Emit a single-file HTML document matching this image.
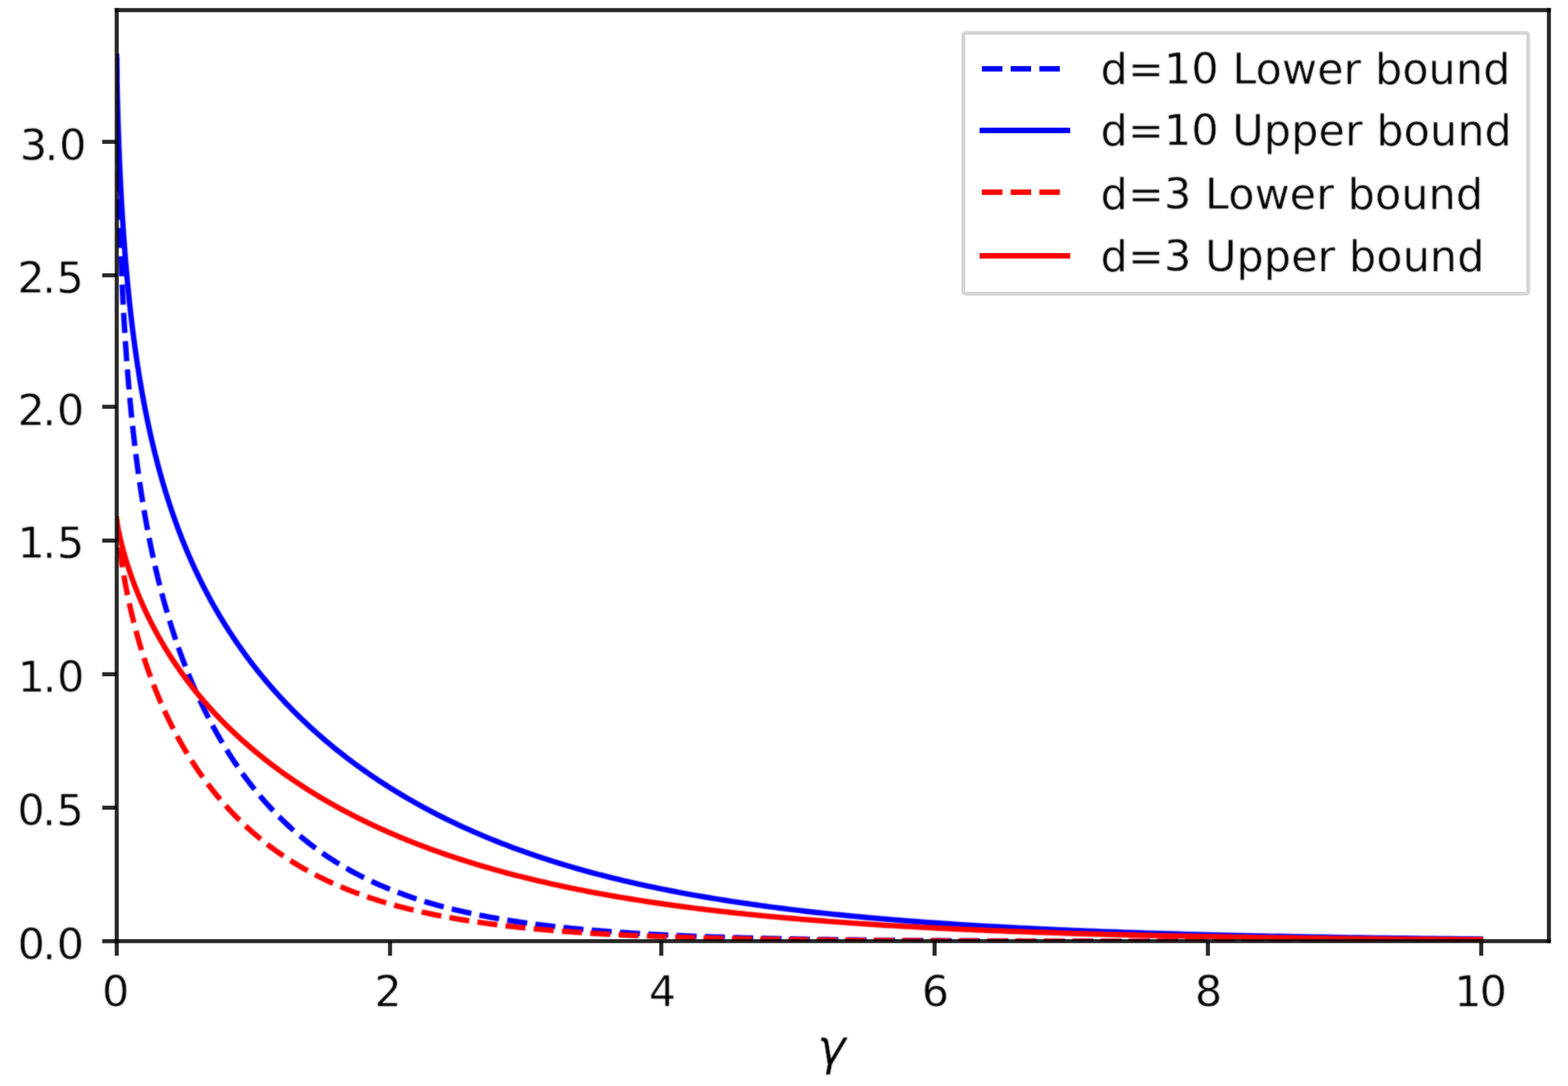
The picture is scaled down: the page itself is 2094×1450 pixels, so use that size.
<!DOCTYPE html>
<html lang="en"><head><meta charset="utf-8"><title>Lower and upper bounds versus γ</title>
<style>
html,body{margin:0;padding:0;background:#fff;}
body{width:2094px;height:1450px;overflow:hidden;}
svg{display:block;}
text{font-family:'DejaVu Sans','Liberation Sans',sans-serif;fill:#000;stroke:#fff;stroke-width:0.5px;stroke-linejoin:round;}
</style></head><body>
<svg width="2094" height="1450" viewBox="0 0 2094 1450">
<rect x="0" y="0" width="2094" height="1450" fill="#fff"/>
<defs><clipPath id="ax"><rect x="155.9" y="13.55" width="1912.6" height="1243.05"/></clipPath>
<filter id="soft" filterUnits="userSpaceOnUse" x="0" y="0" width="2094" height="1450" color-interpolation-filters="sRGB"><feGaussianBlur stdDeviation="1" result="g"/><feComposite in="SourceGraphic" in2="g" operator="arithmetic" k1="0" k2="0.4" k3="0.6" k4="0"/></filter></defs>
<g filter="url(#soft)"><g clip-path="url(#ax)" fill="none" stroke-width="7.2" stroke-linejoin="round">
<path d="M155.70,75.32 L155.74,81.57 L155.74,82.05 L155.74,82.52 L155.75,82.98 L155.75,83.47 L155.75,83.93 L155.76,84.42 L155.76,84.88 L155.76,85.36 L155.77,85.86 L155.77,86.32 L155.77,86.80 L155.78,87.30 L155.78,87.82 L155.79,88.28 L155.79,88.76 L155.79,89.26 L155.80,89.77 L155.80,90.30 L155.81,90.76 L155.81,91.23 L155.81,91.71 L155.82,92.21 L155.82,92.72 L155.83,93.25 L155.83,93.79 L155.84,94.35 L155.84,94.81 L155.84,95.27 L155.85,95.75 L155.85,96.24 L155.86,96.74 L155.86,97.25 L155.87,97.78 L155.87,98.31 L155.88,98.86 L155.88,99.42 L155.89,99.99 L155.89,100.57 L155.90,101.17 L155.90,101.62 L155.91,102.09 L155.91,102.56 L155.92,103.04 L155.92,103.52 L155.93,104.02 L155.93,104.52 L155.94,105.03 L155.94,105.55 L155.95,106.08 L155.95,106.62 L155.96,107.16 L155.96,107.72 L155.97,108.28 L155.97,108.85 L155.98,109.43 L155.99,110.02 L155.99,110.62 L156.00,111.23 L156.01,111.85 L156.01,112.48 L156.02,113.11 L156.03,113.76 L156.03,114.42 L156.04,115.09 L156.05,115.54 L156.05,116.00 L156.06,116.46 L156.06,116.92 L156.07,117.39 L156.07,117.87 L156.08,118.35 L156.08,118.83 L156.09,119.32 L156.09,119.82 L156.10,120.32 L156.11,120.82 L156.11,121.33 L156.12,121.85 L156.12,122.37 L156.13,122.90 L156.14,123.43 L156.14,123.96 L156.15,124.51 L156.16,125.05 L156.16,125.61 L156.17,126.16 L156.18,126.73 L156.18,127.30 L156.19,127.87 L156.20,128.45 L156.20,129.04 L156.21,129.63 L156.22,130.23 L156.23,130.83 L156.23,131.44 L156.24,132.06 L156.25,132.68 L156.26,133.30 L156.27,133.94 L156.27,134.58 L156.28,135.22 L156.29,135.88 L156.30,136.53 L156.31,137.20 L156.32,137.87 L156.33,138.55 L156.34,139.23 L156.34,139.92 L156.35,140.62 L156.36,141.32 L156.37,142.03 L156.38,142.74 L156.39,143.47 L156.40,144.20 L156.41,144.93 L156.42,145.68 L156.43,146.43 L156.44,147.18 L156.46,147.95 L156.47,148.72 L156.48,149.50 L156.49,150.28 L156.50,151.07 L156.51,151.87 L156.52,152.68 L156.54,153.49 L156.55,154.31 L156.56,155.14 L156.57,155.98 L156.59,156.82 L156.60,157.67 L156.61,158.53 L156.62,159.39 L156.64,160.27 L156.65,161.15 L156.67,162.04 L156.68,162.93 L156.69,163.38 L156.69,163.84 L156.70,164.29 L156.71,164.75 L156.72,165.21 L156.72,165.67 L156.73,166.13 L156.74,166.60 L156.75,167.06 L156.75,167.53 L156.76,168.00 L156.77,168.48 L156.78,168.95 L156.78,169.43 L156.79,169.91 L156.80,170.39 L156.81,170.87 L156.82,171.36 L156.82,171.84 L156.83,172.33 L156.84,172.82 L156.85,173.32 L156.86,173.81 L156.86,174.31 L156.87,174.81 L156.88,175.31 L156.89,175.81 L156.90,176.32 L156.91,176.82 L156.92,177.33 L156.92,177.85 L156.93,178.36 L156.94,178.88 L156.95,179.39 L156.96,179.91 L156.97,180.44 L156.98,180.96 L156.99,181.49 L157.00,182.02 L157.01,182.55 L157.02,183.08 L157.03,183.62 L157.04,184.15 L157.05,184.69 L157.06,185.23 L157.06,185.78 L157.07,186.32 L157.08,186.87 L157.09,187.42 L157.10,187.98 L157.12,188.53 L157.13,189.09 L157.14,189.65 L157.15,190.21 L157.16,190.77 L157.17,191.34 L157.18,191.90 L157.19,192.47 L157.20,193.05 L157.21,193.62 L157.22,194.20 L157.23,194.78 L157.24,195.36 L157.25,195.94 L157.27,196.53 L157.28,197.12 L157.29,197.71 L157.30,198.30 L157.31,198.89 L157.32,199.49 L157.33,200.09 L157.35,200.69 L157.36,201.30 L157.37,201.90 L157.38,202.51 L157.39,203.12 L157.41,203.74 L157.42,204.35 L157.43,204.97 L157.44,205.59 L157.46,206.21 L157.47,206.84 L157.48,207.46 L157.50,208.09 L157.51,208.72 L157.52,209.36 L157.53,210.00 L157.55,210.63 L157.56,211.28 L157.58,211.92 L157.59,212.56 L157.60,213.21 L157.62,213.86 L157.63,214.52 L157.64,215.17 L157.66,215.83 L157.67,216.49 L157.69,217.15 L157.70,217.82 L157.72,218.48 L157.73,219.15 L157.74,219.83 L157.76,220.50 L157.77,221.18 L157.79,221.86 L157.80,222.54 L157.82,223.22 L157.84,223.91 L157.85,224.60 L157.87,225.29 L157.88,225.98 L157.90,226.68 L157.91,227.38 L157.93,228.08 L157.95,228.78 L157.96,229.49 L157.98,230.19 L158.00,230.90 L158.01,231.62 L158.03,232.33 L158.05,233.05 L158.06,233.77 L158.08,234.49 L158.10,235.22 L158.11,235.95 L158.13,236.68 L158.15,237.41 L158.17,238.15 L158.18,238.88 L158.20,239.62 L158.22,240.37 L158.24,241.11 L158.26,241.86 L158.28,242.61 L158.29,243.36 L158.31,244.12 L158.33,244.87 L158.35,245.63 L158.37,246.40 L158.39,247.16 L158.41,247.93 L158.43,248.70 L158.45,249.47 L158.47,250.25 L158.49,251.02 L158.51,251.80 L158.53,252.59 L158.55,253.37 L158.57,254.16 L158.59,254.95 L158.61,255.74 L158.63,256.54 L158.65,257.33 L158.68,258.13 L158.70,258.94 L158.72,259.74 L158.74,260.55 L158.76,261.36 L158.79,262.17 L158.81,262.99 L158.83,263.80 L158.85,264.63 L158.88,265.45 L158.90,266.27 L158.92,267.10 L158.95,267.93 L158.97,268.76 L158.99,269.60 L159.02,270.44 L159.04,271.28 L159.06,272.12 L159.09,272.97 L159.11,273.82 L159.14,274.67 L159.16,275.52 L159.19,276.38 L159.21,277.23 L159.24,278.09 L159.26,278.96 L159.29,279.82 L159.32,280.69 L159.34,281.56 L159.37,282.44 L159.40,283.31 L159.42,284.19 L159.45,285.07 L159.48,285.96 L159.50,286.84 L159.53,287.73 L159.56,288.63 L159.59,289.52 L159.62,290.42 L159.64,291.32 L159.67,292.22 L159.70,293.12 L159.73,294.03 L159.76,294.94 L159.79,295.85 L159.82,296.76 L159.85,297.68 L159.88,298.60 L159.91,299.52 L159.94,300.45 L159.97,301.38 L160.00,302.31 L160.03,303.24 L160.06,304.17 L160.09,305.11 L160.13,306.05 L160.16,306.99 L160.19,307.94 L160.22,308.89 L160.26,309.84 L160.29,310.79 L160.32,311.74 L160.36,312.70 L160.39,313.66 L160.42,314.63 L160.46,315.59 L160.49,316.56 L160.53,317.53 L160.56,318.50 L160.60,319.48 L160.63,320.46 L160.67,321.44 L160.70,322.42 L160.74,323.41 L160.78,324.40 L160.81,325.39 L160.85,326.38 L160.89,327.38 L160.93,328.38 L160.96,329.38 L161.00,330.38 L161.04,331.39 L161.08,332.40 L161.12,333.41 L161.16,334.42 L161.20,335.44 L161.24,336.46 L161.28,337.48 L161.32,338.50 L161.36,339.53 L161.40,340.56 L161.44,341.59 L161.48,342.63 L161.52,343.66 L161.57,344.70 L161.61,345.74 L161.65,346.79 L161.69,347.83 L161.74,348.88 L161.78,349.93 L161.83,350.99 L161.87,352.05 L161.91,353.11 L161.96,354.17 L162.00,355.23 L162.05,356.30 L162.10,357.37 L162.14,358.44 L162.19,359.51 L162.24,360.59 L162.28,361.67 L162.33,362.75 L162.38,363.84 L162.43,364.92 L162.48,366.01 L162.53,367.10 L162.58,368.20 L162.62,369.29 L162.68,370.39 L162.73,371.49 L162.78,372.60 L162.83,373.71 L162.88,374.81 L162.93,375.93 L162.98,377.04 L163.04,378.16 L163.09,379.27 L163.14,380.40 L163.20,381.52 L163.25,382.65 L163.31,383.77 L163.36,384.91 L163.42,386.04 L163.47,387.17 L163.53,388.31 L163.59,389.45 L163.64,390.60 L163.70,391.74 L163.76,392.89 L163.82,394.04 L163.88,395.19 L163.93,396.35 L163.99,397.51 L164.05,398.67 L164.12,399.83 L164.18,400.99 L164.24,402.16 L164.30,403.33 L164.36,404.50 L164.42,405.68 L164.49,406.85 L164.55,408.03 L164.62,409.21 L164.68,410.40 L164.74,411.58 L164.81,412.77 L164.88,413.96 L164.94,415.16 L165.01,416.35 L165.08,417.55 L165.15,418.75 L165.21,419.96 L165.28,421.16 L165.35,422.37 L165.42,423.58 L165.49,424.79 L165.56,426.00 L165.63,427.22 L165.71,428.44 L165.78,429.66 L165.85,430.89 L165.93,432.11 L166.00,433.34 L166.07,434.57 L166.15,435.80 L166.23,437.04 L166.30,438.28 L166.38,439.52 L166.46,440.76 L166.53,442.00 L166.61,443.25 L166.69,444.50 L166.77,445.75 L166.85,447.00 L166.93,448.26 L167.01,449.52 L167.10,450.78 L167.18,452.04 L167.26,453.30 L167.34,454.57 L167.43,455.84 L167.51,457.11 L167.60,458.39 L167.69,459.66 L167.77,460.94 L167.86,462.22 L167.95,463.50 L168.04,464.79 L168.13,466.07 L168.22,467.36 L168.31,468.65 L168.40,469.95 L168.49,471.24 L168.58,472.54 L168.68,473.84 L168.77,475.14 L168.86,476.45 L168.96,477.75 L169.06,479.06 L169.15,480.37 L169.25,481.69 L169.35,483.00 L169.45,484.32 L169.55,485.64 L169.65,486.96 L169.75,488.28 L169.85,489.61 L169.95,490.94 L170.06,492.27 L170.16,493.60 L170.26,494.93 L170.37,496.27 L170.48,497.61 L170.58,498.95 L170.69,500.29 L170.80,501.64 L170.91,502.98 L171.02,504.33 L171.13,505.68 L171.24,507.04 L171.35,508.39 L171.47,509.75 L171.58,511.11 L171.70,512.47 L171.81,513.83 L171.93,515.20 L172.05,516.56 L172.17,517.93 L172.29,519.30 L172.41,520.68 L172.53,522.05 L172.65,523.43 L172.77,524.81 L172.89,526.19 L173.02,527.57 L173.14,528.96 L173.27,530.35 L173.40,531.74 L173.53,533.13 L173.66,534.52 L173.79,535.92 L173.92,537.31 L174.05,538.71 L174.18,540.11 L174.32,541.52 L174.45,542.92 L174.59,544.33 L174.72,545.74 L174.86,547.15 L175.00,548.56 L175.14,549.97 L175.28,551.39 L175.42,552.81 L175.57,554.23 L175.71,555.65 L175.85,557.07 L176.00,558.50 L176.15,559.93 L176.30,561.36 L176.44,562.79 L176.59,564.22 L176.75,565.65 L176.90,567.09 L177.05,568.53 L177.21,569.97 L177.36,571.41 L177.52,572.86 L177.68,574.30 L177.84,575.75 L178.00,577.20 L178.16,578.65 L178.32,580.11 L178.49,581.56 L178.65,583.02 L178.82,584.48 L178.98,585.94 L179.15,587.40 L179.32,588.86 L179.49,590.33 L179.67,591.79 L179.84,593.26 L180.01,594.73 L180.19,596.21 L180.37,597.68 L180.55,599.16 L180.73,600.63 L180.91,602.11 L181.09,603.60 L181.27,605.08 L181.46,606.56 L181.65,608.05 L181.83,609.54 L182.02,611.03 L182.21,612.52 L182.41,614.01 L182.60,615.51 L182.79,617.00 L182.99,618.50 L183.19,620.00 L183.39,621.50 L183.59,623.00 L183.79,624.51 L183.99,626.01 L184.20,627.52 L184.41,629.03 L184.61,630.54 L184.82,632.06 L185.03,633.57 L185.25,635.09 L185.46,636.60 L185.68,638.12 L185.89,639.64 L186.11,641.17 L186.33,642.69 L186.55,644.21 L186.78,645.74 L187.00,647.27 L187.23,648.80 L187.46,650.33 L187.69,651.86 L187.92,653.40 L188.15,654.93 L188.39,656.47 L188.62,658.01 L188.86,659.55 L189.10,661.09 L189.35,662.64 L189.59,664.18 L189.83,665.73 L190.08,667.28 L190.33,668.83 L190.58,670.38 L190.83,671.93 L191.09,673.49 L191.35,675.04 L191.60,676.60 L191.86,678.16 L192.13,679.72 L192.39,681.28 L192.66,682.84 L192.92,684.41 L193.19,685.97 L193.46,687.54 L193.74,689.11 L194.01,690.68 L194.29,692.25 L194.57,693.82 L194.85,695.39 L195.14,696.97 L195.42,698.55 L195.71,700.12 L196.00,701.70 L196.29,703.28 L196.58,704.87 L196.88,706.45 L197.18,708.04 L197.48,709.62 L197.78,711.21 L198.09,712.80 L198.39,714.39 L198.70,715.98 L199.02,717.57 L199.33,719.17 L199.65,720.76 L199.96,722.36 L200.28,723.96 L200.61,725.56 L200.93,727.16 L201.26,728.76 L201.59,730.36 L201.92,731.97 L202.26,733.57 L202.59,735.18 L202.93,736.79 L203.28,738.40 L203.62,740.01 L203.97,741.62 L204.32,743.23 L204.67,744.85 L205.02,746.46 L205.38,748.08 L205.74,749.70 L206.10,751.32 L206.47,752.94 L206.84,754.56 L207.21,756.18 L207.58,757.81 L207.96,759.43 L208.34,761.06 L208.72,762.69 L209.10,764.32 L209.49,765.95 L209.88,767.58 L210.27,769.21 L210.67,770.84 L211.06,772.48 L211.46,774.11 L211.87,775.75 L212.28,777.39 L212.69,779.03 L213.10,780.67 L213.51,782.31 L213.93,783.95 L214.35,785.60 L214.78,787.24 L215.21,788.89 L215.64,790.53 L216.07,792.18 L216.51,793.83 L216.95,795.48 L217.39,797.13 L217.84,798.78 L218.29,800.44 L218.74,802.09 L219.20,803.75 L219.66,805.40 L220.12,807.06 L220.59,808.72 L221.06,810.38 L221.53,812.04 L222.01,813.70 L222.49,815.36 L222.98,817.03 L223.46,818.69 L223.95,820.36 L224.45,822.02 L224.95,823.69 L225.45,825.36 L225.95,827.03 L226.46,828.70 L226.98,830.37 L227.49,832.04 L228.01,833.71 L228.54,835.39 L229.06,837.06 L229.59,838.74 L230.13,840.42 L230.67,842.09 L231.21,843.77 L231.76,845.45 L232.31,847.13 L232.86,848.81 L233.42,850.50 L233.99,852.18 L234.55,853.86 L235.13,855.55 L235.70,857.23 L236.28,858.92 L236.86,860.61 L237.45,862.30 L238.04,863.99 L238.64,865.68 L239.24,867.37 L239.85,869.06 L240.46,870.75 L241.07,872.44 L241.69,874.14 L242.31,875.83 L242.94,877.53 L243.57,879.22 L244.21,880.92 L244.85,882.62 L245.49,884.32 L246.14,886.01 L246.80,887.71 L247.46,889.42 L248.12,891.12 L248.79,892.82 L249.47,894.52 L250.15,896.22 L250.83,897.93 L251.52,899.63 L252.22,901.34 L252.91,903.04 L253.62,904.75 L254.33,906.46 L255.04,908.16 L255.76,909.87 L256.49,911.58 L257.22,913.29 L257.95,915.00 L258.69,916.71 L259.44,918.42 L260.19,920.13 L260.95,921.84 L261.71,923.55 L262.48,925.27 L263.25,926.98 L264.03,928.69 L264.82,930.41 L265.61,932.12 L266.40,933.83 L267.20,935.55 L268.01,937.26 L268.83,938.98 L269.65,940.69 L270.47,942.41 L271.30,944.12 L272.14,945.84 L272.98,947.56 L273.83,949.27 L274.69,950.99 L275.55,952.71 L276.42,954.42 L277.29,956.14 L278.17,957.86 L279.06,959.57 L279.95,961.29 L280.85,963.01 L281.76,964.72 L282.67,966.44 L283.59,968.16 L284.52,969.87 L285.45,971.59 L286.39,973.30 L287.34,975.02 L288.29,976.73 L289.26,978.45 L290.22,980.16 L291.20,981.88 L292.18,983.59 L293.17,985.30 L294.16,987.02 L295.17,988.73 L296.18,990.44 L297.19,992.15 L298.22,993.86 L299.25,995.57 L300.29,997.28 L301.34,998.99 L302.39,1000.69 L303.46,1002.40 L304.53,1004.10 L305.60,1005.81 L306.69,1007.51 L307.78,1009.21 L308.89,1010.91 L310.00,1012.61 L311.11,1014.31 L312.24,1016.01 L313.37,1017.71 L314.52,1019.40 L315.67,1021.09 L316.83,1022.78 L317.99,1024.47 L319.17,1026.16 L320.35,1027.85 L321.54,1029.53 L322.75,1031.22 L323.96,1032.90 L325.18,1034.58 L326.40,1036.26 L327.64,1037.93 L328.89,1039.60 L330.14,1041.28 L331.40,1042.94 L332.68,1044.61 L333.96,1046.27 L335.25,1047.94 L336.55,1049.60 L337.86,1051.25 L339.18,1052.91 L340.51,1054.56 L341.85,1056.21 L343.20,1057.85 L344.55,1059.50 L345.92,1061.14 L347.30,1062.77 L348.69,1064.41 L350.09,1066.04 L351.49,1067.67 L352.91,1069.29 L354.34,1070.91 L355.78,1072.53 L357.23,1074.14 L358.69,1075.75 L360.16,1077.36 L361.64,1078.96 L363.13,1080.56 L364.64,1082.15 L366.15,1083.75 L367.67,1085.33 L369.21,1086.91 L370.76,1088.49 L372.31,1090.07 L373.88,1091.64 L375.46,1093.20 L377.06,1094.76 L378.66,1096.32 L380.27,1097.87 L381.90,1099.41 L383.54,1100.96 L385.19,1102.49 L386.85,1104.02 L388.53,1105.55 L390.21,1107.07 L391.91,1108.59 L393.62,1110.10 L395.35,1111.60 L397.08,1113.10 L398.83,1114.59 L400.59,1116.08 L402.37,1117.56 L404.15,1119.04 L405.95,1120.51 L407.77,1121.98 L409.59,1123.43 L411.43,1124.89 L413.29,1126.33 L415.15,1127.77 L417.03,1129.20 L418.92,1130.63 L420.83,1132.05 L422.75,1133.46 L424.69,1134.87 L426.63,1136.27 L428.60,1137.66 L430.57,1139.05 L432.57,1140.43 L434.57,1141.80 L436.59,1143.17 L438.63,1144.52 L440.68,1145.87 L442.74,1147.22 L444.82,1148.55 L446.91,1149.88 L449.02,1151.20 L451.15,1152.51 L453.29,1153.82 L455.44,1155.12 L457.62,1156.41 L459.80,1157.69 L462.01,1158.96 L464.22,1160.23 L466.46,1161.49 L468.71,1162.74 L470.98,1163.98 L473.26,1165.21 L475.56,1166.44 L477.88,1167.65 L480.21,1168.86 L482.56,1170.06 L484.93,1171.25 L487.32,1172.44 L489.72,1173.61 L492.14,1174.78 L494.58,1175.93 L497.03,1177.08 L499.50,1178.22 L501.99,1179.35 L504.50,1180.48 L507.03,1181.59 L509.57,1182.69 L512.14,1183.79 L514.72,1184.88 L517.32,1185.95 L519.94,1187.02 L522.58,1188.08 L525.24,1189.13 L527.91,1190.17 L530.61,1191.20 L533.33,1192.23 L536.06,1193.24 L538.82,1194.24 L541.59,1195.24 L544.39,1196.22 L547.20,1197.20 L550.04,1198.17 L552.90,1199.13 L555.77,1200.07 L558.67,1201.01 L561.59,1201.94 L564.53,1202.86 L567.49,1203.78 L570.48,1204.68 L573.48,1205.57 L576.51,1206.45 L579.56,1207.33 L582.63,1208.19 L585.72,1209.05 L588.83,1209.89 L591.97,1210.73 L595.13,1211.55 L598.32,1212.37 L601.52,1213.18 L604.75,1213.98 L608.00,1214.77 L611.28,1215.55 L614.58,1216.32 L617.91,1217.08 L621.25,1217.83 L624.63,1218.58 L628.02,1219.31 L631.44,1220.04 L634.89,1220.75 L638.36,1221.46 L641.86,1222.16 L645.38,1222.84 L648.93,1223.52 L652.50,1224.19 L656.10,1224.86 L659.72,1225.51 L663.38,1226.15 L667.05,1226.79 L670.76,1227.41 L674.49,1228.03 L678.25,1228.64 L682.03,1229.24 L685.85,1229.83 L689.69,1230.41 L693.55,1230.98 L697.45,1231.55 L701.37,1232.10 L705.33,1232.65 L709.31,1233.19 L713.32,1233.72 L717.36,1234.25 L721.43,1234.76 L725.53,1235.27 L729.65,1235.77 L733.81,1236.26 L738.00,1236.74 L742.22,1237.21 L746.47,1237.68 L750.75,1238.14 L755.06,1238.59 L759.40,1239.03 L763.77,1239.47 L768.18,1239.90 L772.61,1240.32 L777.08,1240.73 L781.58,1241.13 L786.12,1241.53 L790.68,1241.92 L795.28,1242.31 L799.92,1242.68 L804.58,1243.05 L809.29,1243.41 L814.02,1243.77 L818.79,1244.12 L823.59,1244.46 L828.43,1244.80 L833.30,1245.12 L838.21,1245.45 L843.16,1245.76 L848.14,1246.07 L853.15,1246.37 L858.21,1246.67 L863.29,1246.96 L868.42,1247.24 L873.58,1247.52 L878.78,1247.79 L884.02,1248.06 L889.30,1248.32 L894.61,1248.57 L899.96,1248.82 L905.36,1249.07 L910.79,1249.30 L916.26,1249.54 L921.77,1249.76 L927.32,1249.98 L932.91,1250.20 L938.54,1250.41 L944.21,1250.62 L949.92,1250.82 L955.67,1251.02 L961.47,1251.21 L967.30,1251.39 L973.18,1251.58 L979.11,1251.75 L985.07,1251.93 L991.08,1252.10 L997.13,1252.26 L1003.23,1252.42 L1009.37,1252.58 L1015.55,1252.73 L1021.78,1252.88 L1028.05,1253.02 L1034.37,1253.16 L1040.74,1253.29 L1047.15,1253.43 L1053.61,1253.55 L1060.11,1253.68 L1066.66,1253.80 L1073.26,1253.92 L1079.91,1254.03 L1086.60,1254.14 L1093.35,1254.25 L1100.14,1254.36 L1106.98,1254.46 L1113.87,1254.56 L1120.81,1254.65 L1127.80,1254.74 L1134.85,1254.83 L1141.94,1254.92 L1149.08,1255.00 L1156.28,1255.09 L1163.53,1255.16 L1170.83,1255.24 L1178.18,1255.31 L1185.59,1255.39 L1193.05,1255.45 L1200.56,1255.52 L1208.13,1255.59 L1215.76,1255.65 L1223.44,1255.71 L1231.17,1255.77 L1238.96,1255.82 L1246.81,1255.88 L1254.71,1255.93 L1262.68,1255.98 L1270.69,1256.03 L1278.77,1256.07 L1286.91,1256.12 L1295.10,1256.16 L1303.36,1256.20 L1311.67,1256.24 L1320.04,1256.28 L1328.48,1256.32 L1336.97,1256.35 L1345.53,1256.39 L1354.15,1256.42 L1362.83,1256.45 L1371.58,1256.48 L1380.38,1256.51 L1389.26,1256.54 L1398.19,1256.57 L1407.19,1256.59 L1416.26,1256.62 L1425.39,1256.64 L1434.59,1256.66 L1443.85,1256.69 L1453.18,1256.71 L1462.58,1256.73 L1472.05,1256.74 L1481.59,1256.76 L1491.19,1256.78 L1500.87,1256.80 L1510.61,1256.81 L1520.43,1256.83 L1530.31,1256.84 L1540.27,1256.86 L1550.30,1256.87 L1560.40,1256.88 L1570.58,1256.89 L1580.83,1256.90 L1591.15,1256.92 L1601.55,1256.93 L1612.02,1256.94 L1622.57,1256.94 L1633.20,1256.95 L1643.90,1256.96 L1654.68,1256.97 L1665.54,1256.98 L1676.48,1256.98 L1687.50,1256.99 L1698.59,1257.00 L1709.77,1257.00 L1721.03,1257.01 L1732.37,1257.01 L1743.79,1257.02 L1755.29,1257.02 L1766.88,1257.03 L1778.55,1257.03 L1790.31,1257.04 L1802.15,1257.04 L1814.08,1257.05 L1826.09,1257.05 L1838.19,1257.05 L1850.38,1257.06 L1862.66,1257.06 L1875.02,1257.06 L1887.48,1257.06 L1900.02,1257.07 L1912.66,1257.07 L1925.38,1257.07 L1938.20,1257.07 L1951.12,1257.07 L1964.12,1257.08 L1977.22,1257.08" stroke="#0000ff" stroke-dasharray="26.8 11.05" stroke-dashoffset="-2"/>
<path d="M155.70,75.32 L155.74,78.74 L155.74,79.20 L155.75,79.67 L155.75,80.13 L155.76,80.60 L155.77,81.08 L155.77,81.56 L155.78,82.05 L155.79,82.52 L155.79,82.98 L155.80,83.47 L155.81,83.93 L155.81,84.42 L155.82,84.88 L155.83,85.36 L155.83,85.86 L155.84,86.32 L155.85,86.80 L155.86,87.30 L155.86,87.82 L155.87,88.28 L155.88,88.76 L155.89,89.25 L155.90,89.77 L155.90,90.30 L155.91,90.76 L155.92,91.23 L155.93,91.71 L155.94,92.21 L155.94,92.72 L155.95,93.25 L155.96,93.79 L155.97,94.34 L155.98,94.80 L155.99,95.27 L156.00,95.75 L156.01,96.24 L156.02,96.74 L156.02,97.25 L156.03,97.77 L156.04,98.31 L156.05,98.85 L156.06,99.41 L156.07,99.98 L156.09,100.57 L156.10,101.16 L156.11,101.62 L156.11,102.08 L156.12,102.55 L156.13,103.03 L156.14,103.52 L156.15,104.01 L156.16,104.52 L156.17,105.03 L156.18,105.55 L156.19,106.08 L156.20,106.61 L156.22,107.16 L156.23,107.71 L156.24,108.27 L156.25,108.84 L156.26,109.43 L156.27,110.02 L156.29,110.61 L156.30,111.22 L156.31,111.84 L156.33,112.47 L156.34,113.11 L156.35,113.76 L156.37,114.41 L156.38,115.08 L156.39,115.53 L156.40,115.99 L156.41,116.45 L156.42,116.92 L156.43,117.39 L156.44,117.86 L156.46,118.34 L156.47,118.83 L156.48,119.32 L156.49,119.81 L156.50,120.31 L156.51,120.82 L156.52,121.33 L156.54,121.84 L156.55,122.36 L156.56,122.89 L156.57,123.42 L156.59,123.96 L156.60,124.50 L156.61,125.04 L156.62,125.60 L156.64,126.15 L156.65,126.72 L156.67,127.29 L156.68,127.86 L156.69,128.44 L156.71,129.03 L156.72,129.62 L156.74,130.22 L156.75,130.82 L156.77,131.43 L156.78,132.05 L156.80,132.67 L156.82,133.30 L156.83,133.93 L156.85,134.57 L156.86,135.21 L156.88,135.87 L156.90,136.52 L156.92,137.19 L156.93,137.86 L156.95,138.54 L156.97,139.22 L156.99,139.91 L157.01,140.60 L157.03,141.31 L157.05,142.02 L157.06,142.73 L157.08,143.46 L157.10,144.19 L157.13,144.92 L157.15,145.66 L157.17,146.41 L157.19,147.17 L157.21,147.93 L157.23,148.71 L157.25,149.48 L157.28,150.27 L157.30,151.06 L157.32,151.86 L157.35,152.67 L157.37,153.48 L157.39,154.30 L157.42,155.13 L157.44,155.96 L157.47,156.81 L157.50,157.66 L157.52,158.52 L157.55,159.38 L157.58,160.25 L157.60,161.14 L157.63,162.02 L157.66,162.92 L157.67,163.37 L157.69,163.82 L157.70,164.28 L157.72,164.74 L157.73,165.19 L157.74,165.66 L157.76,166.12 L157.77,166.58 L157.79,167.05 L157.80,167.52 L157.82,167.99 L157.84,168.46 L157.85,168.94 L157.87,169.41 L157.88,169.89 L157.90,170.37 L157.91,170.86 L157.93,171.34 L157.95,171.83 L157.96,172.32 L157.98,172.81 L158.00,173.30 L158.01,173.80 L158.03,174.29 L158.05,174.79 L158.06,175.29 L158.08,175.80 L158.10,176.30 L158.11,176.81 L158.13,177.32 L158.15,177.83 L158.17,178.34 L158.18,178.86 L158.20,179.38 L158.22,179.90 L158.24,180.42 L158.26,180.95 L158.28,181.47 L158.29,182.00 L158.31,182.53 L158.33,183.06 L158.35,183.60 L158.37,184.14 L158.39,184.68 L158.41,185.22 L158.43,185.76 L158.45,186.31 L158.47,186.86 L158.49,187.41 L158.51,187.96 L158.53,188.51 L158.55,189.07 L158.57,189.63 L158.59,190.19 L158.61,190.75 L158.63,191.32 L158.65,191.89 L158.68,192.46 L158.70,193.03 L158.72,193.60 L158.74,194.18 L158.76,194.76 L158.79,195.34 L158.81,195.92 L158.83,196.51 L158.85,197.10 L158.88,197.69 L158.90,198.28 L158.92,198.88 L158.95,199.47 L158.97,200.07 L158.99,200.67 L159.02,201.28 L159.04,201.88 L159.06,202.49 L159.09,203.10 L159.11,203.72 L159.14,204.33 L159.16,204.95 L159.19,205.57 L159.21,206.19 L159.24,206.82 L159.26,207.44 L159.29,208.07 L159.32,208.71 L159.34,209.34 L159.37,209.98 L159.40,210.61 L159.42,211.26 L159.45,211.90 L159.48,212.54 L159.50,213.19 L159.53,213.84 L159.56,214.50 L159.59,215.15 L159.62,215.81 L159.64,216.47 L159.67,217.13 L159.70,217.80 L159.73,218.46 L159.76,219.13 L159.79,219.80 L159.82,220.48 L159.85,221.16 L159.88,221.83 L159.91,222.52 L159.94,223.20 L159.97,223.89 L160.00,224.58 L160.03,225.27 L160.06,225.96 L160.09,226.66 L160.13,227.35 L160.16,228.06 L160.19,228.76 L160.22,229.46 L160.26,230.17 L160.29,230.88 L160.32,231.60 L160.36,232.31 L160.39,233.03 L160.42,233.75 L160.46,234.47 L160.49,235.20 L160.53,235.93 L160.56,236.66 L160.60,237.39 L160.63,238.12 L160.67,238.86 L160.70,239.60 L160.74,240.34 L160.78,241.09 L160.81,241.84 L160.85,242.59 L160.89,243.34 L160.93,244.09 L160.96,244.85 L161.00,245.61 L161.04,246.37 L161.08,247.14 L161.12,247.91 L161.16,248.68 L161.20,249.45 L161.24,250.22 L161.28,251.00 L161.32,251.78 L161.36,252.56 L161.40,253.35 L161.44,254.13 L161.48,254.92 L161.52,255.72 L161.57,256.51 L161.61,257.31 L161.65,258.11 L161.69,258.91 L161.74,259.72 L161.78,260.52 L161.83,261.33 L161.87,262.15 L161.91,262.96 L161.96,263.78 L162.00,264.60 L162.05,265.42 L162.10,266.25 L162.14,267.08 L162.19,267.91 L162.24,268.74 L162.28,269.57 L162.33,270.41 L162.38,271.25 L162.43,272.10 L162.48,272.94 L162.53,273.79 L162.58,274.64 L162.62,275.49 L162.68,276.35 L162.73,277.21 L162.78,278.07 L162.83,278.93 L162.88,279.80 L162.93,280.67 L162.98,281.54 L163.04,282.41 L163.09,283.29 L163.14,284.17 L163.20,285.05 L163.25,285.93 L163.31,286.82 L163.36,287.71 L163.42,288.60 L163.47,289.49 L163.53,290.39 L163.59,291.29 L163.64,292.19 L163.70,293.09 L163.76,294.00 L163.82,294.91 L163.88,295.82 L163.93,296.74 L163.99,297.65 L164.05,298.57 L164.12,299.49 L164.18,300.42 L164.24,301.35 L164.30,302.28 L164.36,303.21 L164.42,304.14 L164.49,305.08 L164.55,306.02 L164.62,306.96 L164.68,307.91 L164.74,308.86 L164.81,309.81 L164.88,310.76 L164.94,311.72 L165.01,312.67 L165.08,313.63 L165.15,314.60 L165.21,315.56 L165.28,316.53 L165.35,317.50 L165.42,318.47 L165.49,319.45 L165.56,320.43 L165.63,321.41 L165.71,322.39 L165.78,323.38 L165.85,324.37 L165.93,325.36 L166.00,326.35 L166.07,327.35 L166.15,328.35 L166.23,329.35 L166.30,330.35 L166.38,331.36 L166.46,332.37 L166.53,333.38 L166.61,334.39 L166.69,335.41 L166.77,336.43 L166.85,337.45 L166.93,338.47 L167.01,339.50 L167.10,340.53 L167.18,341.56 L167.26,342.59 L167.34,343.63 L167.43,344.67 L167.51,345.71 L167.60,346.76 L167.69,347.80 L167.77,348.85 L167.86,349.90 L167.95,350.96 L168.04,352.01 L168.13,353.07 L168.22,354.13 L168.31,355.20 L168.40,356.27 L168.49,357.33 L168.58,358.41 L168.68,359.48 L168.77,360.56 L168.86,361.64 L168.96,362.72 L169.06,363.80 L169.15,364.89 L169.25,365.98 L169.35,367.07 L169.45,368.16 L169.55,369.26 L169.65,370.36 L169.75,371.46 L169.85,372.57 L169.95,373.67 L170.06,374.78 L170.16,375.89 L170.26,377.01 L170.37,378.12 L170.48,379.24 L170.58,380.36 L170.69,381.49 L170.80,382.61 L170.91,383.74 L171.02,384.87 L171.13,386.00 L171.24,387.14 L171.35,388.28 L171.47,389.42 L171.58,390.56 L171.70,391.71 L171.81,392.86 L171.93,394.01 L172.05,395.16 L172.17,396.31 L172.29,397.47 L172.41,398.63 L172.53,399.79 L172.65,400.96 L172.77,402.13 L172.89,403.30 L173.02,404.47 L173.14,405.64 L173.27,406.82 L173.40,408.00 L173.53,409.18 L173.66,410.36 L173.79,411.55 L173.92,412.74 L174.05,413.93 L174.18,415.12 L174.32,416.32 L174.45,417.52 L174.59,418.72 L174.72,419.92 L174.86,421.12 L175.00,422.33 L175.14,423.54 L175.28,424.75 L175.42,425.97 L175.57,427.18 L175.71,428.40 L175.85,429.62 L176.00,430.85 L176.15,432.07 L176.30,433.30 L176.44,434.53 L176.59,435.77 L176.75,437.00 L176.90,438.24 L177.05,439.48 L177.21,440.72 L177.36,441.96 L177.52,443.21 L177.68,444.46 L177.84,445.71 L178.00,446.96 L178.16,448.22 L178.32,449.48 L178.49,450.74 L178.65,452.00 L178.82,453.27 L178.98,454.53 L179.15,455.80 L179.32,457.07 L179.49,458.35 L179.67,459.62 L179.84,460.90 L180.01,462.18 L180.19,463.46 L180.37,464.75 L180.55,466.03 L180.73,467.32 L180.91,468.61 L181.09,469.91 L181.27,471.20 L181.46,472.50 L181.65,473.80 L181.83,475.10 L182.02,476.41 L182.21,477.71 L182.41,479.02 L182.60,480.33 L182.79,481.65 L182.99,482.96 L183.19,484.28 L183.39,485.60 L183.59,486.92 L183.79,488.24 L183.99,489.57 L184.20,490.90 L184.41,492.23 L184.61,493.56 L184.82,494.89 L185.03,496.23 L185.25,497.57 L185.46,498.91 L185.68,500.25 L185.89,501.60 L186.11,502.94 L186.33,504.29 L186.55,505.64 L186.78,507.00 L187.00,508.35 L187.23,509.71 L187.46,511.07 L187.69,512.43 L187.92,513.79 L188.15,515.16 L188.39,516.52 L188.62,517.89 L188.86,519.26 L189.10,520.64 L189.35,522.01 L189.59,523.39 L189.83,524.77 L190.08,526.15 L190.33,527.53 L190.58,528.92 L190.83,530.30 L191.09,531.69 L191.35,533.09 L191.60,534.48 L191.86,535.87 L192.13,537.27 L192.39,538.67 L192.66,540.07 L192.92,541.47 L193.19,542.88 L193.46,544.28 L193.74,545.69 L194.01,547.10 L194.29,548.52 L194.57,549.93 L194.85,551.35 L195.14,552.76 L195.42,554.18 L195.71,555.61 L196.00,557.03 L196.29,558.46 L196.58,559.88 L196.88,561.31 L197.18,562.74 L197.48,564.18 L197.78,565.61 L198.09,567.05 L198.39,568.49 L198.70,569.93 L199.02,571.37 L199.33,572.81 L199.65,574.26 L199.96,575.71 L200.28,577.16 L200.61,578.61 L200.93,580.06 L201.26,581.52 L201.59,582.97 L201.92,584.43 L202.26,585.89 L202.59,587.35 L202.93,588.82 L203.28,590.28 L203.62,591.75 L203.97,593.22 L204.32,594.69 L204.67,596.16 L205.02,597.64 L205.38,599.11 L205.74,600.59 L206.10,602.07 L206.47,603.55 L206.84,605.03 L207.21,606.52 L207.58,608.00 L207.96,609.49 L208.34,610.98 L208.72,612.47 L209.10,613.97 L209.49,615.46 L209.88,616.96 L210.27,618.45 L210.67,619.95 L211.06,621.46 L211.46,622.96 L211.87,624.46 L212.28,625.97 L212.69,627.48 L213.10,628.99 L213.51,630.50 L213.93,632.01 L214.35,633.52 L214.78,635.04 L215.21,636.56 L215.64,638.08 L216.07,639.60 L216.51,641.12 L216.95,642.64 L217.39,644.17 L217.84,645.69 L218.29,647.22 L218.74,648.75 L219.20,650.28 L219.66,651.82 L220.12,653.35 L220.59,654.89 L221.06,656.43 L221.53,657.97 L222.01,659.51 L222.49,661.05 L222.98,662.59 L223.46,664.14 L223.95,665.68 L224.45,667.23 L224.95,668.78 L225.45,670.33 L225.95,671.88 L226.46,673.44 L226.98,674.99 L227.49,676.55 L228.01,678.11 L228.54,679.67 L229.06,681.23 L229.59,682.79 L230.13,684.36 L230.67,685.92 L231.21,687.49 L231.76,689.06 L232.31,690.63 L232.86,692.20 L233.42,693.77 L233.99,695.35 L234.55,696.92 L235.13,698.50 L235.70,700.08 L236.28,701.66 L236.86,703.24 L237.45,704.82 L238.04,706.40 L238.64,707.99 L239.24,709.57 L239.85,711.16 L240.46,712.75 L241.07,714.34 L241.69,715.93 L242.31,717.52 L242.94,719.12 L243.57,720.71 L244.21,722.31 L244.85,723.91 L245.49,725.51 L246.14,727.11 L246.80,728.71 L247.46,730.31 L248.12,731.92 L248.79,733.52 L249.47,735.13 L250.15,736.74 L250.83,738.35 L251.52,739.96 L252.22,741.57 L252.91,743.19 L253.62,744.80 L254.33,746.42 L255.04,748.03 L255.76,749.65 L256.49,751.27 L257.22,752.89 L257.95,754.51 L258.69,756.14 L259.44,757.76 L260.19,759.38 L260.95,761.01 L261.71,762.64 L262.48,764.27 L263.25,765.90 L264.03,767.53 L264.82,769.16 L265.61,770.79 L266.40,772.43 L267.20,774.06 L268.01,775.70 L268.83,777.34 L269.65,778.98 L270.47,780.62 L271.30,782.26 L272.14,783.90 L272.98,785.55 L273.83,787.19 L274.69,788.84 L275.55,790.48 L276.42,792.13 L277.29,793.78 L278.17,795.43 L279.06,797.08 L279.95,798.73 L280.85,800.39 L281.76,802.04 L282.67,803.70 L283.59,805.35 L284.52,807.01 L285.45,808.67 L286.39,810.33 L287.34,811.99 L288.29,813.65 L289.26,815.31 L290.22,816.98 L291.20,818.64 L292.18,820.31 L293.17,821.97 L294.16,823.64 L295.17,825.31 L296.18,826.98 L297.19,828.65 L298.22,830.32 L299.25,831.99 L300.29,833.66 L301.34,835.34 L302.39,837.01 L303.46,838.69 L304.53,840.37 L305.60,842.04 L306.69,843.72 L307.78,845.40 L308.89,847.08 L310.00,848.76 L311.11,850.45 L312.24,852.13 L313.37,853.81 L314.52,855.50 L315.67,857.18 L316.83,858.87 L317.99,860.56 L319.17,862.25 L320.35,863.93 L321.54,865.62 L322.75,867.31 L323.96,869.01 L325.18,870.70 L326.40,872.39 L327.64,874.09 L328.89,875.78 L330.14,877.48 L331.40,879.17 L332.68,880.87 L333.96,882.57 L335.25,884.26 L336.55,885.96 L337.86,887.66 L339.18,889.36 L340.51,891.06 L341.85,892.77 L343.20,894.47 L344.55,896.17 L345.92,897.88 L347.30,899.58 L348.69,901.29 L350.09,902.99 L351.49,904.70 L352.91,906.40 L354.34,908.11 L355.78,909.82 L357.23,911.53 L358.69,913.24 L360.16,914.95 L361.64,916.66 L363.13,918.37 L364.64,920.08 L366.15,921.79 L367.67,923.50 L369.21,925.21 L370.76,926.93 L372.31,928.64 L373.88,930.35 L375.46,932.07 L377.06,933.78 L378.66,935.50 L380.27,937.21 L381.90,938.93 L383.54,940.64 L385.19,942.36 L386.85,944.07 L388.53,945.79 L390.21,947.50 L391.91,949.22 L393.62,950.94 L395.35,952.65 L397.08,954.37 L398.83,956.09 L400.59,957.80 L402.37,959.52 L404.15,961.24 L405.95,962.95 L407.77,964.67 L409.59,966.39 L411.43,968.10 L413.29,969.82 L415.15,971.54 L417.03,973.25 L418.92,974.97 L420.83,976.68 L422.75,978.40 L424.69,980.11 L426.63,981.83 L428.60,983.54 L430.57,985.25 L432.57,986.96 L434.57,988.68 L436.59,990.39 L438.63,992.10 L440.68,993.81 L442.74,995.52 L444.82,997.23 L446.91,998.93 L449.02,1000.64 L451.15,1002.35 L453.29,1004.05 L455.44,1005.76 L457.62,1007.46 L459.80,1009.16 L462.01,1010.86 L464.22,1012.56 L466.46,1014.26 L468.71,1015.96 L470.98,1017.65 L473.26,1019.35 L475.56,1021.04 L477.88,1022.73 L480.21,1024.42 L482.56,1026.11 L484.93,1027.80 L487.32,1029.48 L489.72,1031.17 L492.14,1032.85 L494.58,1034.53 L497.03,1036.20 L499.50,1037.88 L501.99,1039.55 L504.50,1041.22 L507.03,1042.89 L509.57,1044.56 L512.14,1046.22 L514.72,1047.89 L517.32,1049.55 L519.94,1051.20 L522.58,1052.86 L525.24,1054.51 L527.91,1056.16 L530.61,1057.80 L533.33,1059.45 L536.06,1061.09 L538.82,1062.72 L541.59,1064.36 L544.39,1065.99 L547.20,1067.62 L550.04,1069.24 L552.90,1070.86 L555.77,1072.48 L558.67,1074.09 L561.59,1075.70 L564.53,1077.31 L567.49,1078.91 L570.48,1080.51 L573.48,1082.11 L576.51,1083.70 L579.56,1085.28 L582.63,1086.87 L585.72,1088.45 L588.83,1090.02 L591.97,1091.59 L595.13,1093.15 L598.32,1094.71 L601.52,1096.27 L604.75,1097.82 L608.00,1099.37 L611.28,1100.91 L614.58,1102.45 L617.91,1103.98 L621.25,1105.50 L624.63,1107.02 L628.02,1108.54 L631.44,1110.05 L634.89,1111.56 L638.36,1113.06 L641.86,1114.55 L645.38,1116.04 L648.93,1117.52 L652.50,1119.00 L656.10,1120.47 L659.72,1121.93 L663.38,1123.39 L667.05,1124.84 L670.76,1126.29 L674.49,1127.73 L678.25,1129.16 L682.03,1130.59 L685.85,1132.01 L689.69,1133.42 L693.55,1134.83 L697.45,1136.23 L701.37,1137.62 L705.33,1139.01 L709.31,1140.39 L713.32,1141.76 L717.36,1143.12 L721.43,1144.48 L725.53,1145.83 L729.65,1147.18 L733.81,1148.51 L738.00,1149.84 L742.22,1151.16 L746.47,1152.47 L750.75,1153.78 L755.06,1155.08 L759.40,1156.37 L763.77,1157.65 L768.18,1158.92 L772.61,1160.19 L777.08,1161.45 L781.58,1162.70 L786.12,1163.94 L790.68,1165.17 L795.28,1166.40 L799.92,1167.62 L804.58,1168.83 L809.29,1170.03 L814.02,1171.22 L818.79,1172.40 L823.59,1173.58 L828.43,1174.74 L833.30,1175.90 L838.21,1177.05 L843.16,1178.19 L848.14,1179.32 L853.15,1180.44 L858.21,1181.56 L863.29,1182.66 L868.42,1183.76 L873.58,1184.84 L878.78,1185.92 L884.02,1186.99 L889.30,1188.05 L894.61,1189.10 L899.96,1190.14 L905.36,1191.17 L910.79,1192.19 L916.26,1193.21 L921.77,1194.21 L927.32,1195.21 L932.91,1196.19 L938.54,1197.17 L944.21,1198.14 L949.92,1199.10 L955.67,1200.05 L961.47,1200.99 L967.30,1201.92 L973.18,1202.84 L979.11,1203.75 L985.07,1204.65 L991.08,1205.54 L997.13,1206.43 L1003.23,1207.30 L1009.37,1208.16 L1015.55,1209.02 L1021.78,1209.87 L1028.05,1210.70 L1034.37,1211.53 L1040.74,1212.35 L1047.15,1213.16 L1053.61,1213.95 L1060.11,1214.74 L1066.66,1215.53 L1073.26,1216.30 L1079.91,1217.06 L1086.60,1217.81 L1093.35,1218.55 L1100.14,1219.29 L1106.98,1220.01 L1113.87,1220.73 L1120.81,1221.44 L1127.80,1222.13 L1134.85,1222.82 L1141.94,1223.50 L1149.08,1224.17 L1156.28,1224.84 L1163.53,1225.49 L1170.83,1226.13 L1178.18,1226.77 L1185.59,1227.39 L1193.05,1228.01 L1200.56,1228.62 L1208.13,1229.22 L1215.76,1229.81 L1223.44,1230.39 L1231.17,1230.97 L1238.96,1231.53 L1246.81,1232.09 L1254.71,1232.64 L1262.68,1233.18 L1270.69,1233.71 L1278.77,1234.23 L1286.91,1234.75 L1295.10,1235.25 L1303.36,1235.75 L1311.67,1236.24 L1320.04,1236.72 L1328.48,1237.20 L1336.97,1237.67 L1345.53,1238.12 L1354.15,1238.58 L1362.83,1239.02 L1371.58,1239.45 L1380.38,1239.88 L1389.26,1240.30 L1398.19,1240.72 L1407.19,1241.12 L1416.26,1241.52 L1425.39,1241.91 L1434.59,1242.30 L1443.85,1242.67 L1453.18,1243.04 L1462.58,1243.40 L1472.05,1243.76 L1481.59,1244.11 L1491.19,1244.45 L1500.87,1244.79 L1510.61,1245.11 L1520.43,1245.44 L1530.31,1245.75 L1540.27,1246.06 L1550.30,1246.36 L1560.40,1246.66 L1570.58,1246.95 L1580.83,1247.23 L1591.15,1247.51 L1601.55,1247.78 L1612.02,1248.05 L1622.57,1248.31 L1633.20,1248.57 L1643.90,1248.82 L1654.68,1249.06 L1665.54,1249.30 L1676.48,1249.53 L1687.50,1249.76 L1698.59,1249.98 L1709.77,1250.19 L1721.03,1250.41 L1732.37,1250.61 L1743.79,1250.81 L1755.29,1251.01 L1766.88,1251.20 L1778.55,1251.39 L1790.31,1251.57 L1802.15,1251.75 L1814.08,1251.92 L1826.09,1252.09 L1838.19,1252.26 L1850.38,1252.42 L1862.66,1252.57 L1875.02,1252.72 L1887.48,1252.87 L1900.02,1253.01 L1912.66,1253.15 L1925.38,1253.29 L1938.20,1253.42 L1951.12,1253.55 L1964.12,1253.68 L1977.22,1253.80" stroke="#0000ff" stroke-linecap="square"/>
<path d="M155.70,693.25 L155.74,693.93 L155.76,694.38 L155.79,694.84 L155.83,695.29 L155.86,695.75 L155.89,696.22 L155.93,696.68 L155.96,697.14 L156.00,697.61 L156.03,698.07 L156.07,698.55 L156.11,699.03 L156.15,699.48 L156.19,699.96 L156.23,700.43 L156.27,700.89 L156.31,701.38 L156.35,701.84 L156.40,702.33 L156.44,702.79 L156.48,703.27 L156.53,703.77 L156.57,704.23 L156.62,704.71 L156.67,705.21 L156.72,705.73 L156.76,706.20 L156.81,706.68 L156.86,707.17 L156.91,707.69 L156.96,708.22 L157.01,708.68 L157.06,709.15 L157.10,709.63 L157.16,710.13 L157.21,710.65 L157.27,711.18 L157.32,711.72 L157.38,712.28 L157.43,712.74 L157.48,713.21 L157.53,713.69 L157.59,714.18 L157.64,714.68 L157.70,715.19 L157.76,715.72 L157.82,716.26 L157.88,716.81 L157.95,717.37 L158.01,717.94 L158.08,718.53 L158.13,718.98 L158.18,719.43 L158.24,719.90 L158.29,720.37 L158.35,720.85 L158.41,721.33 L158.47,721.83 L158.53,722.33 L158.59,722.84 L158.65,723.36 L158.72,723.89 L158.79,724.43 L158.85,724.98 L158.92,725.53 L158.99,726.09 L159.06,726.67 L159.14,727.25 L159.21,727.84 L159.29,728.44 L159.37,729.05 L159.45,729.67 L159.53,730.30 L159.62,730.94 L159.70,731.59 L159.79,732.25 L159.85,732.70 L159.91,733.15 L159.97,733.60 L160.03,734.06 L160.09,734.53 L160.16,735.00 L160.22,735.47 L160.29,735.95 L160.36,736.44 L160.42,736.93 L160.49,737.42 L160.56,737.92 L160.63,738.43 L160.70,738.94 L160.78,739.45 L160.85,739.97 L160.93,740.50 L161.00,741.03 L161.08,741.57 L161.16,742.11 L161.24,742.66 L161.32,743.21 L161.40,743.77 L161.48,744.33 L161.57,744.90 L161.65,745.48 L161.74,746.06 L161.83,746.65 L161.91,747.24 L162.00,747.84 L162.10,748.45 L162.19,749.06 L162.28,749.67 L162.38,750.30 L162.48,750.93 L162.58,751.56 L162.68,752.20 L162.78,752.85 L162.88,753.50 L162.98,754.16 L163.09,754.83 L163.20,755.50 L163.31,756.18 L163.42,756.87 L163.53,757.56 L163.64,758.26 L163.76,758.97 L163.88,759.68 L163.99,760.40 L164.12,761.13 L164.24,761.86 L164.36,762.60 L164.49,763.35 L164.62,764.10 L164.74,764.86 L164.88,765.63 L165.01,766.40 L165.15,767.19 L165.28,767.98 L165.42,768.77 L165.56,769.58 L165.71,770.39 L165.85,771.21 L166.00,772.03 L166.15,772.87 L166.30,773.71 L166.46,774.56 L166.61,775.41 L166.77,776.28 L166.93,777.15 L167.10,778.03 L167.18,778.47 L167.26,778.92 L167.34,779.37 L167.43,779.81 L167.51,780.26 L167.60,780.72 L167.69,781.17 L167.77,781.63 L167.86,782.09 L167.95,782.55 L168.04,783.01 L168.13,783.48 L168.22,783.94 L168.31,784.41 L168.40,784.88 L168.49,785.35 L168.58,785.83 L168.68,786.31 L168.77,786.78 L168.86,787.27 L168.96,787.75 L169.06,788.23 L169.15,788.72 L169.25,789.21 L169.35,789.70 L169.45,790.20 L169.55,790.69 L169.65,791.19 L169.75,791.69 L169.85,792.19 L169.95,792.69 L170.06,793.20 L170.16,793.71 L170.26,794.22 L170.37,794.73 L170.48,795.25 L170.58,795.76 L170.69,796.28 L170.80,796.80 L170.91,797.33 L171.02,797.85 L171.13,798.38 L171.24,798.91 L171.35,799.44 L171.47,799.97 L171.58,800.51 L171.70,801.05 L171.81,801.59 L171.93,802.13 L172.05,802.68 L172.17,803.22 L172.29,803.77 L172.41,804.33 L172.53,804.88 L172.65,805.44 L172.77,805.99 L172.89,806.56 L173.02,807.12 L173.14,807.68 L173.27,808.25 L173.40,808.82 L173.53,809.39 L173.66,809.97 L173.79,810.54 L173.92,811.12 L174.05,811.70 L174.18,812.29 L174.32,812.87 L174.45,813.46 L174.59,814.05 L174.72,814.64 L174.86,815.24 L175.00,815.83 L175.14,816.43 L175.28,817.04 L175.42,817.64 L175.57,818.25 L175.71,818.86 L175.85,819.47 L176.00,820.08 L176.15,820.70 L176.30,821.31 L176.44,821.93 L176.59,822.56 L176.75,823.18 L176.90,823.81 L177.05,824.44 L177.21,825.07 L177.36,825.71 L177.52,826.34 L177.68,826.98 L177.84,827.62 L178.00,828.27 L178.16,828.92 L178.32,829.56 L178.49,830.22 L178.65,830.87 L178.82,831.53 L178.98,832.18 L179.15,832.85 L179.32,833.51 L179.49,834.17 L179.67,834.84 L179.84,835.51 L180.01,836.19 L180.19,836.86 L180.37,837.54 L180.55,838.22 L180.73,838.90 L180.91,839.59 L181.09,840.28 L181.27,840.97 L181.46,841.66 L181.65,842.35 L181.83,843.05 L182.02,843.75 L182.21,844.45 L182.41,845.16 L182.60,845.87 L182.79,846.58 L182.99,847.29 L183.19,848.00 L183.39,848.72 L183.59,849.44 L183.79,850.16 L183.99,850.89 L184.20,851.62 L184.41,852.34 L184.61,853.08 L184.82,853.81 L185.03,854.55 L185.25,855.29 L185.46,856.03 L185.68,856.78 L185.89,857.52 L186.11,858.27 L186.33,859.02 L186.55,859.78 L186.78,860.54 L187.00,861.30 L187.23,862.06 L187.46,862.82 L187.69,863.59 L187.92,864.36 L188.15,865.13 L188.39,865.91 L188.62,866.68 L188.86,867.46 L189.10,868.25 L189.35,869.03 L189.59,869.82 L189.83,870.61 L190.08,871.40 L190.33,872.20 L190.58,872.99 L190.83,873.79 L191.09,874.60 L191.35,875.40 L191.60,876.21 L191.86,877.02 L192.13,877.83 L192.39,878.65 L192.66,879.46 L192.92,880.28 L193.19,881.11 L193.46,881.93 L193.74,882.76 L194.01,883.59 L194.29,884.42 L194.57,885.26 L194.85,886.10 L195.14,886.94 L195.42,887.78 L195.71,888.63 L196.00,889.47 L196.29,890.32 L196.58,891.18 L196.88,892.03 L197.18,892.89 L197.48,893.75 L197.78,894.62 L198.09,895.48 L198.39,896.35 L198.70,897.22 L199.02,898.09 L199.33,898.97 L199.65,899.85 L199.96,900.73 L200.28,901.61 L200.61,902.50 L200.93,903.39 L201.26,904.28 L201.59,905.17 L201.92,906.07 L202.26,906.97 L202.59,907.87 L202.93,908.77 L203.28,909.68 L203.62,910.59 L203.97,911.50 L204.32,912.41 L204.67,913.33 L205.02,914.24 L205.38,915.16 L205.74,916.09 L206.10,917.01 L206.47,917.94 L206.84,918.87 L207.21,919.81 L207.58,920.74 L207.96,921.68 L208.34,922.62 L208.72,923.57 L209.10,924.51 L209.49,925.46 L209.88,926.41 L210.27,927.36 L210.67,928.32 L211.06,929.28 L211.46,930.24 L211.87,931.20 L212.28,932.16 L212.69,933.13 L213.10,934.10 L213.51,935.07 L213.93,936.05 L214.35,937.03 L214.78,938.01 L215.21,938.99 L215.64,939.97 L216.07,940.96 L216.51,941.95 L216.95,942.94 L217.39,943.93 L217.84,944.93 L218.29,945.93 L218.74,946.93 L219.20,947.93 L219.66,948.94 L220.12,949.94 L220.59,950.95 L221.06,951.97 L221.53,952.98 L222.01,954.00 L222.49,955.02 L222.98,956.04 L223.46,957.06 L223.95,958.09 L224.45,959.12 L224.95,960.15 L225.45,961.18 L225.95,962.22 L226.46,963.25 L226.98,964.29 L227.49,965.34 L228.01,966.38 L228.54,967.43 L229.06,968.47 L229.59,969.52 L230.13,970.58 L230.67,971.63 L231.21,972.69 L231.76,973.75 L232.31,974.81 L232.86,975.87 L233.42,976.94 L233.99,978.00 L234.55,979.07 L235.13,980.14 L235.70,981.22 L236.28,982.29 L236.86,983.37 L237.45,984.45 L238.04,985.53 L238.64,986.61 L239.24,987.70 L239.85,988.79 L240.46,989.88 L241.07,990.97 L241.69,992.06 L242.31,993.15 L242.94,994.25 L243.57,995.35 L244.21,996.45 L244.85,997.55 L245.49,998.66 L246.14,999.76 L246.80,1000.87 L247.46,1001.98 L248.12,1003.09 L248.79,1004.20 L249.47,1005.32 L250.15,1006.43 L250.83,1007.55 L251.52,1008.67 L252.22,1009.79 L252.91,1010.92 L253.62,1012.04 L254.33,1013.17 L255.04,1014.29 L255.76,1015.42 L256.49,1016.55 L257.22,1017.68 L257.95,1018.82 L258.69,1019.95 L259.44,1021.09 L260.19,1022.23 L260.95,1023.37 L261.71,1024.51 L262.48,1025.65 L263.25,1026.79 L264.03,1027.94 L264.82,1029.08 L265.61,1030.23 L266.40,1031.38 L267.20,1032.53 L268.01,1033.68 L268.83,1034.83 L269.65,1035.98 L270.47,1037.13 L271.30,1038.29 L272.14,1039.44 L272.98,1040.60 L273.83,1041.76 L274.69,1042.92 L275.55,1044.08 L276.42,1045.24 L277.29,1046.40 L278.17,1047.56 L279.06,1048.72 L279.95,1049.89 L280.85,1051.05 L281.76,1052.21 L282.67,1053.38 L283.59,1054.55 L284.52,1055.71 L285.45,1056.88 L286.39,1058.05 L287.34,1059.22 L288.29,1060.38 L289.26,1061.55 L290.22,1062.72 L291.20,1063.89 L292.18,1065.06 L293.17,1066.23 L294.16,1067.40 L295.17,1068.58 L296.18,1069.75 L297.19,1070.92 L298.22,1072.09 L299.25,1073.26 L300.29,1074.43 L301.34,1075.60 L302.39,1076.77 L303.46,1077.94 L304.53,1079.11 L305.60,1080.29 L306.69,1081.46 L307.78,1082.63 L308.89,1083.80 L310.00,1084.96 L311.11,1086.13 L312.24,1087.30 L313.37,1088.47 L314.52,1089.64 L315.67,1090.80 L316.83,1091.97 L317.99,1093.14 L319.17,1094.30 L320.35,1095.46 L321.54,1096.63 L322.75,1097.79 L323.96,1098.95 L325.18,1100.11 L326.40,1101.27 L327.64,1102.43 L328.89,1103.58 L330.14,1104.74 L331.40,1105.89 L332.68,1107.05 L333.96,1108.20 L335.25,1109.35 L336.55,1110.50 L337.86,1111.65 L339.18,1112.79 L340.51,1113.94 L341.85,1115.08 L343.20,1116.22 L344.55,1117.36 L345.92,1118.50 L347.30,1119.63 L348.69,1120.77 L350.09,1121.90 L351.49,1123.03 L352.91,1124.16 L354.34,1125.28 L355.78,1126.41 L357.23,1127.53 L358.69,1128.65 L360.16,1129.77 L361.64,1130.88 L363.13,1131.99 L364.64,1133.10 L366.15,1134.21 L367.67,1135.31 L369.21,1136.41 L370.76,1137.51 L372.31,1138.61 L373.88,1139.70 L375.46,1140.79 L377.06,1141.88 L378.66,1142.96 L380.27,1144.04 L381.90,1145.12 L383.54,1146.20 L385.19,1147.27 L386.85,1148.34 L388.53,1149.40 L390.21,1150.46 L391.91,1151.52 L393.62,1152.58 L395.35,1153.63 L397.08,1154.67 L398.83,1155.72 L400.59,1156.76 L402.37,1157.79 L404.15,1158.83 L405.95,1159.85 L407.77,1160.88 L409.59,1161.90 L411.43,1162.92 L413.29,1163.93 L415.15,1164.94 L417.03,1165.94 L418.92,1166.94 L420.83,1167.93 L422.75,1168.92 L424.69,1169.91 L426.63,1170.89 L428.60,1171.87 L430.57,1172.84 L432.57,1173.81 L434.57,1174.77 L436.59,1175.73 L438.63,1176.68 L440.68,1177.63 L442.74,1178.58 L444.82,1179.52 L446.91,1180.45 L449.02,1181.38 L451.15,1182.30 L453.29,1183.22 L455.44,1184.13 L457.62,1185.04 L459.80,1185.94 L462.01,1186.84 L464.22,1187.73 L466.46,1188.62 L468.71,1189.50 L470.98,1190.38 L473.26,1191.25 L475.56,1192.11 L477.88,1192.97 L480.21,1193.83 L482.56,1194.67 L484.93,1195.52 L487.32,1196.35 L489.72,1197.18 L492.14,1198.01 L494.58,1198.82 L497.03,1199.64 L499.50,1200.44 L501.99,1201.24 L504.50,1202.04 L507.03,1202.83 L509.57,1203.61 L512.14,1204.39 L514.72,1205.16 L517.32,1205.92 L519.94,1206.68 L522.58,1207.43 L525.24,1208.18 L527.91,1208.92 L530.61,1209.65 L533.33,1210.38 L536.06,1211.10 L538.82,1211.81 L541.59,1212.52 L544.39,1213.22 L547.20,1213.92 L550.04,1214.61 L552.90,1215.29 L555.77,1215.97 L558.67,1216.63 L561.59,1217.30 L564.53,1217.95 L567.49,1218.60 L570.48,1219.25 L573.48,1219.89 L576.51,1220.52 L579.56,1221.14 L582.63,1221.76 L585.72,1222.37 L588.83,1222.97 L591.97,1223.57 L595.13,1224.16 L598.32,1224.75 L601.52,1225.33 L604.75,1225.90 L608.00,1226.47 L611.28,1227.03 L614.58,1227.58 L617.91,1228.13 L621.25,1228.67 L624.63,1229.20 L628.02,1229.73 L631.44,1230.25 L634.89,1230.76 L638.36,1231.27 L641.86,1231.77 L645.38,1232.26 L648.93,1232.75 L652.50,1233.24 L656.10,1233.71 L659.72,1234.18 L663.38,1234.64 L667.05,1235.10 L670.76,1235.55 L674.49,1236.00 L678.25,1236.43 L682.03,1236.87 L685.85,1237.29 L689.69,1237.71 L693.55,1238.13 L697.45,1238.53 L701.37,1238.94 L705.33,1239.33 L709.31,1239.72 L713.32,1240.11 L717.36,1240.48 L721.43,1240.86 L725.53,1241.22 L729.65,1241.58 L733.81,1241.94 L738.00,1242.29 L742.22,1242.63 L746.47,1242.97 L750.75,1243.30 L755.06,1243.63 L759.40,1243.95 L763.77,1244.26 L768.18,1244.57 L772.61,1244.88 L777.08,1245.18 L781.58,1245.47 L786.12,1245.76 L790.68,1246.04 L795.28,1246.32 L799.92,1246.59 L804.58,1246.86 L809.29,1247.13 L814.02,1247.38 L818.79,1247.64 L823.59,1247.89 L828.43,1248.13 L833.30,1248.37 L838.21,1248.60 L843.16,1248.83 L848.14,1249.06 L853.15,1249.28 L858.21,1249.49 L863.29,1249.70 L868.42,1249.91 L873.58,1250.11 L878.78,1250.31 L884.02,1250.50 L889.30,1250.69 L894.61,1250.88 L899.96,1251.06 L905.36,1251.24 L910.79,1251.41 L916.26,1251.58 L921.77,1251.74 L927.32,1251.90 L932.91,1252.06 L938.54,1252.22 L944.21,1252.37 L949.92,1252.51 L955.67,1252.66 L961.47,1252.80 L967.30,1252.93 L973.18,1253.07 L979.11,1253.19 L985.07,1253.32 L991.08,1253.44 L997.13,1253.56 L1003.23,1253.68 L1009.37,1253.79 L1015.55,1253.90 L1021.78,1254.01 L1028.05,1254.12 L1034.37,1254.22 L1040.74,1254.32 L1047.15,1254.42 L1053.61,1254.51 L1060.11,1254.60 L1066.66,1254.69 L1073.26,1254.77 L1079.91,1254.86 L1086.60,1254.94 L1093.35,1255.02 L1100.14,1255.09 L1106.98,1255.17 L1113.87,1255.24 L1120.81,1255.31 L1127.80,1255.38 L1134.85,1255.44 L1141.94,1255.51 L1149.08,1255.57 L1156.28,1255.63 L1163.53,1255.68 L1170.83,1255.74 L1178.18,1255.79 L1185.59,1255.85 L1193.05,1255.90 L1200.56,1255.95 L1208.13,1255.99 L1215.76,1256.04 L1223.44,1256.08 L1231.17,1256.12 L1238.96,1256.16 L1246.81,1256.20 L1254.71,1256.24 L1262.68,1256.28 L1270.69,1256.31 L1278.77,1256.35 L1286.91,1256.38 L1295.10,1256.41 L1303.36,1256.44 L1311.67,1256.47 L1320.04,1256.50 L1328.48,1256.53 L1336.97,1256.55 L1345.53,1256.58 L1354.15,1256.60 L1362.83,1256.63 L1371.58,1256.65 L1380.38,1256.67 L1389.26,1256.69 L1398.19,1256.71 L1407.19,1256.73 L1416.26,1256.75 L1425.39,1256.76 L1434.59,1256.78 L1443.85,1256.80 L1453.18,1256.81 L1462.58,1256.83 L1472.05,1256.84 L1481.59,1256.85 L1491.19,1256.87 L1500.87,1256.88 L1510.61,1256.89 L1520.43,1256.90 L1530.31,1256.91 L1540.27,1256.92 L1550.30,1256.93 L1560.40,1256.94 L1570.58,1256.95 L1580.83,1256.96 L1591.15,1256.96 L1601.55,1256.97 L1612.02,1256.98 L1622.57,1256.99 L1633.20,1256.99 L1643.90,1257.00 L1654.68,1257.00 L1665.54,1257.01 L1676.48,1257.02 L1687.50,1257.02 L1698.59,1257.03 L1709.77,1257.03 L1721.03,1257.03 L1732.37,1257.04 L1743.79,1257.04 L1755.29,1257.05 L1766.88,1257.05 L1778.55,1257.05 L1790.31,1257.05 L1802.15,1257.06 L1814.08,1257.06 L1826.09,1257.06 L1838.19,1257.07 L1850.38,1257.07 L1862.66,1257.07 L1875.02,1257.07 L1887.48,1257.07 L1900.02,1257.08 L1912.66,1257.08 L1925.38,1257.08 L1938.20,1257.08 L1951.12,1257.08 L1964.12,1257.08 L1977.22,1257.08" stroke="#ff0000" stroke-dasharray="26.8 11.05" stroke-dashoffset="0"/>
<path d="M155.70,693.25 L155.75,693.70 L155.80,694.15 L155.86,694.60 L155.92,695.06 L155.98,695.51 L156.05,695.97 L156.11,696.41 L156.18,696.86 L156.25,697.32 L156.32,697.78 L156.39,698.22 L156.47,698.68 L156.54,699.14 L156.62,699.59 L156.69,700.04 L156.78,700.52 L156.86,700.99 L156.94,701.48 L157.03,701.95 L157.12,702.44 L157.20,702.91 L157.29,703.39 L157.37,703.84 L157.46,704.30 L157.55,704.78 L157.64,705.28 L157.73,705.73 L157.82,706.19 L157.91,706.67 L158.01,707.17 L158.11,707.68 L158.20,708.13 L158.29,708.58 L158.39,709.05 L158.49,709.53 L158.59,710.03 L158.70,710.54 L158.81,711.07 L158.92,711.61 L159.02,712.05 L159.11,712.50 L159.21,712.97 L159.32,713.44 L159.42,713.93 L159.53,714.42 L159.64,714.93 L159.76,715.45 L159.88,715.98 L160.00,716.52 L160.13,717.08 L160.26,717.65 L160.39,718.23 L160.49,718.67 L160.60,719.12 L160.70,719.58 L160.81,720.05 L160.93,720.52 L161.04,721.00 L161.16,721.49 L161.28,721.99 L161.40,722.50 L161.52,723.01 L161.65,723.53 L161.78,724.07 L161.91,724.60 L162.05,725.15 L162.19,725.71 L162.33,726.28 L162.48,726.85 L162.62,727.44 L162.78,728.03 L162.93,728.64 L163.09,729.25 L163.25,729.87 L163.42,730.51 L163.59,731.15 L163.76,731.80 L163.88,732.25 L163.99,732.69 L164.12,733.14 L164.24,733.60 L164.36,734.06 L164.49,734.52 L164.62,734.99 L164.74,735.47 L164.88,735.95 L165.01,736.43 L165.15,736.92 L165.28,737.42 L165.42,737.92 L165.56,738.42 L165.71,738.93 L165.85,739.45 L166.00,739.97 L166.15,740.49 L166.30,741.02 L166.46,741.56 L166.61,742.10 L166.77,742.65 L166.93,743.20 L167.10,743.76 L167.26,744.33 L167.43,744.90 L167.60,745.47 L167.77,746.05 L167.95,746.64 L168.13,747.23 L168.31,747.83 L168.49,748.44 L168.68,749.05 L168.86,749.66 L169.06,750.29 L169.25,750.92 L169.45,751.55 L169.65,752.19 L169.85,752.84 L170.06,753.49 L170.26,754.15 L170.48,754.82 L170.69,755.49 L170.91,756.17 L171.13,756.86 L171.35,757.55 L171.58,758.25 L171.81,758.96 L172.05,759.67 L172.29,760.39 L172.53,761.11 L172.77,761.85 L173.02,762.59 L173.27,763.33 L173.53,764.09 L173.79,764.85 L174.05,765.62 L174.32,766.39 L174.59,767.17 L174.86,767.96 L175.14,768.76 L175.42,769.56 L175.71,770.38 L176.00,771.19 L176.30,772.02 L176.59,772.85 L176.90,773.70 L177.05,774.12 L177.21,774.55 L177.36,774.97 L177.52,775.40 L177.68,775.83 L177.84,776.27 L178.00,776.70 L178.16,777.14 L178.32,777.58 L178.49,778.02 L178.65,778.46 L178.82,778.90 L178.98,779.35 L179.15,779.80 L179.32,780.25 L179.49,780.70 L179.67,781.16 L179.84,781.61 L180.01,782.07 L180.19,782.53 L180.37,783.00 L180.55,783.46 L180.73,783.93 L180.91,784.40 L181.09,784.87 L181.27,785.34 L181.46,785.81 L181.65,786.29 L181.83,786.77 L182.02,787.25 L182.21,787.73 L182.41,788.22 L182.60,788.71 L182.79,789.20 L182.99,789.69 L183.19,790.18 L183.39,790.68 L183.59,791.17 L183.79,791.67 L183.99,792.17 L184.20,792.68 L184.41,793.18 L184.61,793.69 L184.82,794.20 L185.03,794.72 L185.25,795.23 L185.46,795.75 L185.68,796.27 L185.89,796.79 L186.11,797.31 L186.33,797.83 L186.55,798.36 L186.78,798.89 L187.00,799.42 L187.23,799.96 L187.46,800.49 L187.69,801.03 L187.92,801.57 L188.15,802.12 L188.39,802.66 L188.62,803.21 L188.86,803.76 L189.10,804.31 L189.35,804.86 L189.59,805.42 L189.83,805.98 L190.08,806.54 L190.33,807.10 L190.58,807.67 L190.83,808.23 L191.09,808.80 L191.35,809.38 L191.60,809.95 L191.86,810.53 L192.13,811.10 L192.39,811.69 L192.66,812.27 L192.92,812.85 L193.19,813.44 L193.46,814.03 L193.74,814.62 L194.01,815.22 L194.29,815.82 L194.57,816.42 L194.85,817.02 L195.14,817.62 L195.42,818.23 L195.71,818.84 L196.00,819.45 L196.29,820.06 L196.58,820.68 L196.88,821.29 L197.18,821.92 L197.48,822.54 L197.78,823.16 L198.09,823.79 L198.39,824.42 L198.70,825.05 L199.02,825.69 L199.33,826.32 L199.65,826.96 L199.96,827.61 L200.28,828.25 L200.61,828.90 L200.93,829.54 L201.26,830.20 L201.59,830.85 L201.92,831.51 L202.26,832.16 L202.59,832.83 L202.93,833.49 L203.28,834.15 L203.62,834.82 L203.97,835.49 L204.32,836.17 L204.67,836.84 L205.02,837.52 L205.38,838.20 L205.74,838.88 L206.10,839.57 L206.47,840.26 L206.84,840.95 L207.21,841.64 L207.58,842.33 L207.96,843.03 L208.34,843.73 L208.72,844.43 L209.10,845.14 L209.49,845.85 L209.88,846.56 L210.27,847.27 L210.67,847.98 L211.06,848.70 L211.46,849.42 L211.87,850.14 L212.28,850.87 L212.69,851.59 L213.10,852.32 L213.51,853.05 L213.93,853.79 L214.35,854.53 L214.78,855.27 L215.21,856.01 L215.64,856.75 L216.07,857.50 L216.51,858.25 L216.95,859.00 L217.39,859.76 L217.84,860.51 L218.29,861.27 L218.74,862.03 L219.20,862.80 L219.66,863.57 L220.12,864.34 L220.59,865.11 L221.06,865.88 L221.53,866.66 L222.01,867.44 L222.49,868.22 L222.98,869.01 L223.46,869.79 L223.95,870.58 L224.45,871.38 L224.95,872.17 L225.45,872.97 L225.95,873.77 L226.46,874.57 L226.98,875.38 L227.49,876.18 L228.01,876.99 L228.54,877.81 L229.06,878.62 L229.59,879.44 L230.13,880.26 L230.67,881.08 L231.21,881.91 L231.76,882.74 L232.31,883.57 L232.86,884.40 L233.42,885.23 L233.99,886.07 L234.55,886.91 L235.13,887.75 L235.70,888.60 L236.28,889.45 L236.86,890.30 L237.45,891.15 L238.04,892.01 L238.64,892.87 L239.24,893.73 L239.85,894.59 L240.46,895.46 L241.07,896.32 L241.69,897.19 L242.31,898.07 L242.94,898.94 L243.57,899.82 L244.21,900.70 L244.85,901.59 L245.49,902.47 L246.14,903.36 L246.80,904.25 L247.46,905.14 L248.12,906.04 L248.79,906.94 L249.47,907.84 L250.15,908.74 L250.83,909.65 L251.52,910.56 L252.22,911.47 L252.91,912.38 L253.62,913.30 L254.33,914.22 L255.04,915.14 L255.76,916.06 L256.49,916.99 L257.22,917.91 L257.95,918.85 L258.69,919.78 L259.44,920.71 L260.19,921.65 L260.95,922.59 L261.71,923.54 L262.48,924.48 L263.25,925.43 L264.03,926.38 L264.82,927.33 L265.61,928.29 L266.40,929.25 L267.20,930.21 L268.01,931.17 L268.83,932.13 L269.65,933.10 L270.47,934.07 L271.30,935.04 L272.14,936.02 L272.98,937.00 L273.83,937.98 L274.69,938.96 L275.55,939.94 L276.42,940.93 L277.29,941.92 L278.17,942.91 L279.06,943.90 L279.95,944.90 L280.85,945.90 L281.76,946.90 L282.67,947.90 L283.59,948.91 L284.52,949.91 L285.45,950.92 L286.39,951.94 L287.34,952.95 L288.29,953.97 L289.26,954.99 L290.22,956.01 L291.20,957.03 L292.18,958.06 L293.17,959.09 L294.16,960.12 L295.17,961.15 L296.18,962.19 L297.19,963.22 L298.22,964.26 L299.25,965.30 L300.29,966.35 L301.34,967.39 L302.39,968.44 L303.46,969.49 L304.53,970.54 L305.60,971.60 L306.69,972.66 L307.78,973.71 L308.89,974.78 L310.00,975.84 L311.11,976.90 L312.24,977.97 L313.37,979.04 L314.52,980.11 L315.67,981.18 L316.83,982.26 L317.99,983.34 L319.17,984.42 L320.35,985.50 L321.54,986.58 L322.75,987.67 L323.96,988.75 L325.18,989.84 L326.40,990.93 L327.64,992.03 L328.89,993.12 L330.14,994.22 L331.40,995.32 L332.68,996.42 L333.96,997.52 L335.25,998.62 L336.55,999.73 L337.86,1000.84 L339.18,1001.95 L340.51,1003.06 L341.85,1004.17 L343.20,1005.28 L344.55,1006.40 L345.92,1007.52 L347.30,1008.64 L348.69,1009.76 L350.09,1010.88 L351.49,1012.01 L352.91,1013.13 L354.34,1014.26 L355.78,1015.39 L357.23,1016.52 L358.69,1017.65 L360.16,1018.78 L361.64,1019.92 L363.13,1021.05 L364.64,1022.19 L366.15,1023.33 L367.67,1024.47 L369.21,1025.61 L370.76,1026.76 L372.31,1027.90 L373.88,1029.05 L375.46,1030.19 L377.06,1031.34 L378.66,1032.49 L380.27,1033.64 L381.90,1034.79 L383.54,1035.94 L385.19,1037.10 L386.85,1038.25 L388.53,1039.41 L390.21,1040.56 L391.91,1041.72 L393.62,1042.88 L395.35,1044.04 L397.08,1045.20 L398.83,1046.36 L400.59,1047.52 L402.37,1048.69 L404.15,1049.85 L405.95,1051.01 L407.77,1052.18 L409.59,1053.34 L411.43,1054.51 L413.29,1055.68 L415.15,1056.84 L417.03,1058.01 L418.92,1059.18 L420.83,1060.35 L422.75,1061.52 L424.69,1062.69 L426.63,1063.86 L428.60,1065.03 L430.57,1066.20 L432.57,1067.37 L434.57,1068.54 L436.59,1069.71 L438.63,1070.88 L440.68,1072.05 L442.74,1073.22 L444.82,1074.40 L446.91,1075.57 L449.02,1076.74 L451.15,1077.91 L453.29,1079.08 L455.44,1080.25 L457.62,1081.42 L459.80,1082.59 L462.01,1083.76 L464.22,1084.93 L466.46,1086.10 L468.71,1087.27 L470.98,1088.43 L473.26,1089.60 L475.56,1090.77 L477.88,1091.93 L480.21,1093.10 L482.56,1094.26 L484.93,1095.43 L487.32,1096.59 L489.72,1097.75 L492.14,1098.91 L494.58,1100.07 L497.03,1101.23 L499.50,1102.39 L501.99,1103.55 L504.50,1104.70 L507.03,1105.86 L509.57,1107.01 L512.14,1108.16 L514.72,1109.32 L517.32,1110.46 L519.94,1111.61 L522.58,1112.76 L525.24,1113.90 L527.91,1115.05 L530.61,1116.19 L533.33,1117.33 L536.06,1118.46 L538.82,1119.60 L541.59,1120.73 L544.39,1121.87 L547.20,1123.00 L550.04,1124.12 L552.90,1125.25 L555.77,1126.37 L558.67,1127.50 L561.59,1128.61 L564.53,1129.73 L567.49,1130.85 L570.48,1131.96 L573.48,1133.07 L576.51,1134.17 L579.56,1135.28 L582.63,1136.38 L585.72,1137.48 L588.83,1138.57 L591.97,1139.67 L595.13,1140.76 L598.32,1141.85 L601.52,1142.93 L604.75,1144.01 L608.00,1145.09 L611.28,1146.16 L614.58,1147.24 L617.91,1148.30 L621.25,1149.37 L624.63,1150.43 L628.02,1151.49 L631.44,1152.54 L634.89,1153.59 L638.36,1154.64 L641.86,1155.69 L645.38,1156.73 L648.93,1157.76 L652.50,1158.79 L656.10,1159.82 L659.72,1160.85 L663.38,1161.87 L667.05,1162.88 L670.76,1163.90 L674.49,1164.90 L678.25,1165.91 L682.03,1166.91 L685.85,1167.90 L689.69,1168.89 L693.55,1169.88 L697.45,1170.86 L701.37,1171.84 L705.33,1172.81 L709.31,1173.78 L713.32,1174.74 L717.36,1175.70 L721.43,1176.66 L725.53,1177.60 L729.65,1178.55 L733.81,1179.49 L738.00,1180.42 L742.22,1181.35 L746.47,1182.27 L750.75,1183.19 L755.06,1184.11 L759.40,1185.01 L763.77,1185.92 L768.18,1186.82 L772.61,1187.71 L777.08,1188.59 L781.58,1189.48 L786.12,1190.35 L790.68,1191.22 L795.28,1192.09 L799.92,1192.95 L804.58,1193.80 L809.29,1194.65 L814.02,1195.49 L818.79,1196.33 L823.59,1197.16 L828.43,1197.98 L833.30,1198.80 L838.21,1199.61 L843.16,1200.42 L848.14,1201.22 L853.15,1202.02 L858.21,1202.80 L863.29,1203.59 L868.42,1204.36 L873.58,1205.13 L878.78,1205.90 L884.02,1206.66 L889.30,1207.41 L894.61,1208.16 L899.96,1208.90 L905.36,1209.63 L910.79,1210.36 L916.26,1211.08 L921.77,1211.79 L927.32,1212.50 L932.91,1213.20 L938.54,1213.90 L944.21,1214.59 L949.92,1215.27 L955.67,1215.94 L961.47,1216.61 L967.30,1217.28 L973.18,1217.93 L979.11,1218.59 L985.07,1219.23 L991.08,1219.87 L997.13,1220.50 L1003.23,1221.12 L1009.37,1221.74 L1015.55,1222.35 L1021.78,1222.96 L1028.05,1223.55 L1034.37,1224.15 L1040.74,1224.73 L1047.15,1225.31 L1053.61,1225.88 L1060.11,1226.45 L1066.66,1227.01 L1073.26,1227.56 L1079.91,1228.11 L1086.60,1228.65 L1093.35,1229.18 L1100.14,1229.71 L1106.98,1230.23 L1113.87,1230.74 L1120.81,1231.25 L1127.80,1231.75 L1134.85,1232.25 L1141.94,1232.74 L1149.08,1233.22 L1156.28,1233.70 L1163.53,1234.17 L1170.83,1234.63 L1178.18,1235.09 L1185.59,1235.54 L1193.05,1235.98 L1200.56,1236.42 L1208.13,1236.85 L1215.76,1237.28 L1223.44,1237.70 L1231.17,1238.11 L1238.96,1238.52 L1246.81,1238.92 L1254.71,1239.32 L1262.68,1239.71 L1270.69,1240.09 L1278.77,1240.47 L1286.91,1240.84 L1295.10,1241.21 L1303.36,1241.57 L1311.67,1241.93 L1320.04,1242.28 L1328.48,1242.62 L1336.97,1242.96 L1345.53,1243.29 L1354.15,1243.62 L1362.83,1243.94 L1371.58,1244.25 L1380.38,1244.56 L1389.26,1244.87 L1398.19,1245.17 L1407.19,1245.46 L1416.26,1245.75 L1425.39,1246.03 L1434.59,1246.31 L1443.85,1246.59 L1453.18,1246.85 L1462.58,1247.12 L1472.05,1247.38 L1481.59,1247.63 L1491.19,1247.88 L1500.87,1248.12 L1510.61,1248.36 L1520.43,1248.59 L1530.31,1248.82 L1540.27,1249.05 L1550.30,1249.27 L1560.40,1249.48 L1570.58,1249.70 L1580.83,1249.90 L1591.15,1250.10 L1601.55,1250.30 L1612.02,1250.50 L1622.57,1250.69 L1633.20,1250.87 L1643.90,1251.05 L1654.68,1251.23 L1665.54,1251.40 L1676.48,1251.57 L1687.50,1251.74 L1698.59,1251.90 L1709.77,1252.06 L1721.03,1252.21 L1732.37,1252.36 L1743.79,1252.51 L1755.29,1252.65 L1766.88,1252.79 L1778.55,1252.93 L1790.31,1253.06 L1802.15,1253.19 L1814.08,1253.32 L1826.09,1253.44 L1838.19,1253.56 L1850.38,1253.68 L1862.66,1253.79 L1875.02,1253.90 L1887.48,1254.01 L1900.02,1254.11 L1912.66,1254.22 L1925.38,1254.32 L1938.20,1254.41 L1951.12,1254.51 L1964.12,1254.60 L1977.22,1254.69" stroke="#ff0000" stroke-linecap="square"/>
</g></g>
<g stroke="rgba(0,0,0,0.84)" stroke-width="5.4" fill="none">
<line x1="155.95" y1="1256.6" x2="155.95" y2="1276.0"/>
<line x1="520.90" y1="1256.6" x2="520.90" y2="1276.0"/>
<line x1="883.10" y1="1256.6" x2="883.10" y2="1276.0"/>
<line x1="1248.10" y1="1256.6" x2="1248.10" y2="1276.0"/>
<line x1="1613.10" y1="1256.6" x2="1613.10" y2="1276.0"/>
<line x1="1978.10" y1="1256.6" x2="1978.10" y2="1276.0"/>
<line x1="155.9" y1="1256.70" x2="136.5" y2="1256.70"/>
<line x1="155.9" y1="1078.40" x2="136.5" y2="1078.40"/>
<line x1="155.9" y1="900.20" x2="136.5" y2="900.20"/>
<line x1="155.9" y1="721.80" x2="136.5" y2="721.80"/>
<line x1="155.9" y1="543.10" x2="136.5" y2="543.10"/>
<line x1="155.9" y1="367.60" x2="136.5" y2="367.60"/>
<line x1="155.9" y1="189.35" x2="136.5" y2="189.35"/>
<line x1="155.9" y1="10.85" x2="155.9" y2="1259.30"/>
<line x1="2068.5" y1="10.85" x2="2068.5" y2="1259.30"/>
<line x1="153.20" y1="13.55" x2="2071.20" y2="13.55"/>
<line x1="153.20" y1="1256.6" x2="2071.20" y2="1256.6"/>
</g>
<g font-size="57.3" filter="url(#soft)">
<text x="136.28" y="1343.6">0</text>
<text x="500.08" y="1343.6">2</text>
<text x="866.38" y="1343.6">4</text>
<text x="1231.08" y="1343.6">6</text>
<text x="1595.78" y="1343.6">8</text>
<text x="1942.00 1975.94" y="1343.6">10</text>
<text x="23.40 56.70 75.80" y="1281.3">0.0</text>
<text x="23.20 56.50 75.60" y="1101.9">0.5</text>
<text x="23.80 57.10 76.20" y="924.1">1.0</text>
<text x="23.50 56.80 75.90" y="744.5">1.5</text>
<text x="23.50 56.80 75.90" y="567.7">2.0</text>
<text x="23.20 56.50 75.60" y="391.1">2.5</text>
<text x="26.50 59.80 78.90" y="213.5">3.0</text>
</g>
<text x="1110.3" y="1420.8" font-size="65.5" font-style="italic" text-anchor="middle" filter="url(#soft)">γ</text>
<rect x="1286.5" y="44.0" width="754.4" height="348.1" rx="3.2" ry="3.2" fill="rgba(255,255,255,0.8)" stroke="#d5d5d5" stroke-width="5.2"/>
<line x1="1311.3" y1="91.8" x2="1415.4" y2="91.8" stroke="#0000ff" stroke-width="7.2" stroke-dasharray="27.3 11.1"/>
<line x1="1311.8" y1="174.1" x2="1425.6" y2="174.1" stroke="#0000ff" stroke-width="7.2" stroke-linecap="square"/>
<line x1="1311.3" y1="256.6" x2="1415.4" y2="256.6" stroke="#ff0000" stroke-width="7.2" stroke-dasharray="27.3 11.1"/>
<line x1="1311.8" y1="341.7" x2="1425.6" y2="341.7" stroke="#ff0000" stroke-width="7.2" stroke-linecap="square"/>
<g font-size="57.3" letter-spacing="0.1" filter="url(#soft)">
<text x="1469.8" y="112.0">d=10 Lower bound</text>
<text x="1469.8" y="194.1">d=10 Upper bound</text>
<text x="1469.8" y="279.1">d=3 Lower bound</text>
<text x="1469.8" y="361.5">d=3 Upper bound</text>
</g>
</svg></body></html>
